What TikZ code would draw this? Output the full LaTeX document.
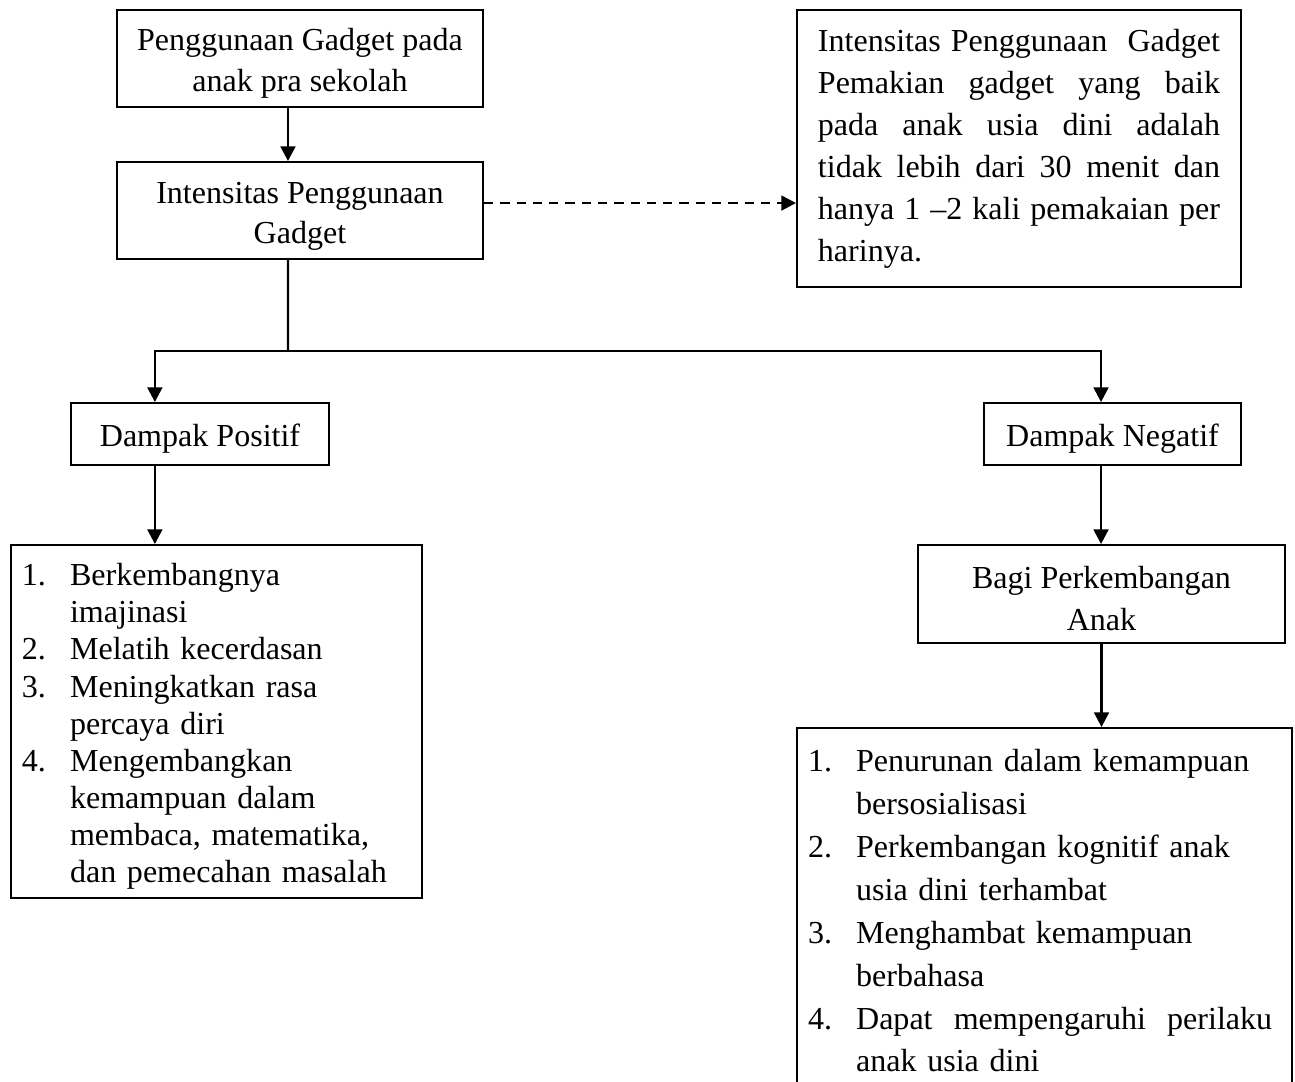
\documentclass[tikz,border=0pt]{standalone}
\usepackage{fontspec}
\setmainfont{Liberation Serif}
\usetikzlibrary{arrows.meta}

\newcommand\itemno[1]{\makebox[18pt][l]{#1}}
\newcommand\itemind{\hspace*{18pt}}
\newcommand\tstrut{\rule{0pt}{12pt}}

\tikzset{
  box/.style={draw,line width=0.7pt,inner sep=0pt,align=center},
  boxsize/.style 2 args={minimum width=#1*0.3745pt,minimum height=#2*0.3745pt},
  listbox/.style={box,align=left,inner xsep=4.1pt},
  arr/.style={-{Triangle[length=5.5pt,width=5.5pt]},line width=1pt},
}

\begin{document}
\begin{tikzpicture}[x=0.3745pt,y=-0.3745pt]
  \useasboundingbox (0,0) rectangle (1295,1081);
  % top column
  \node[box,boxsize={366}{97},font=\fontsize{12}{15.3}\selectfont] (use) at (300,58.5)
    {\tstrut Penggunaan Gadget pada\\anak pra sekolah};
  \node[box,boxsize={366}{97},font=\fontsize{12}{15}\selectfont] (intens) at (300,210.5)
    {\tstrut Intensitas Penggunaan\\Gadget};
  \node[box,align=left,boxsize={444}{277},text width=150.6pt,inner xsep=7.85pt,
    font=\fontsize{12}{15.75}\selectfont] (ket) at (1019,148.5)
    {\makebox[150.6pt][s]{Intensitas\hfill Penggunaan\hfill\hfill Gadget}\\
     \makebox[150.6pt][s]{Pemakian\hfill gadget\hfill yang\hfill baik}\\
     \makebox[150.6pt][s]{pada\hfill anak\hfill usia\hfill dini\hfill adalah}\\
     \makebox[150.6pt][s]{tidak\hfill lebih\hfill dari\hfill 30\hfill menit\hfill dan}\\
     \makebox[150.6pt][s]{hanya\hfill 1\hfill --2\hfill kali\hfill pemakaian\hfill per}\\
     harinya.};
  % two branches
  \node[box,boxsize={258}{62},font=\fontsize{12}{15}\selectfont] (pos) at (200,434) {\tstrut Dampak Positif};
  \node[box,boxsize={257}{62},font=\fontsize{12}{15}\selectfont] (neg) at (1112.5,434) {\tstrut Dampak Negatif};
  \node[listbox,boxsize={411}{353},text width=145.7pt,font=\fontsize{12}{13.9}\selectfont]
    (poslist) at (216.5,721.5)
    {\tstrut\itemno{1.}Berkembangnya\\
     \itemind imajinasi\\
     \itemno{2.}Melatih kecerdasan\\
     \itemno{3.}Meningkatkan rasa\\
     \itemind percaya diri\\
     \itemno{4.}Mengembangkan\\
     \itemind kemampuan dalam\\
     \itemind membaca, matematika,\\
     \itemind dan pemecahan masalah};
  \node[box,boxsize={367}{98},font=\fontsize{12}{15.75}\selectfont] (bagi) at (1101.5,594)
    {\tstrut Bagi Perkembangan\\Anak};
  \node[listbox,boxsize={495}{366},text width=177.1pt,font=\fontsize{12}{16.05}\selectfont]
    (neglist) at (1044.5,911)
    {\itemno{1.}Penurunan dalam kemampuan\\
     \itemind bersosialisasi\\
     \itemno{2.}Perkembangan kognitif anak\\
     \itemind usia dini terhambat\\
     \itemno{3.}Menghambat kemampuan\\
     \itemind berbahasa\\
     \itemno{4.}\makebox[155.8pt][s]{Dapat\hfill mempengaruhi\hfill perilaku}\\
     \itemind anak usia dini};

  % connectors
  \draw[arr] ([xshift=-4.5pt]use.south) -- ([xshift=-4.5pt]intens.north);
  \coordinate (dashout) at ([yshift=2.8pt]intens.east);
  \draw[arr,dash pattern=on 3.5pt off 2.6pt] (dashout) -- (dashout -| ket.west);
  \coordinate (fork) at (288,351);
  \draw[line width=0.8pt] ([xshift=-4.5pt]intens.south) -- (fork);
  \draw[arr] (fork) -| ([xshift=-16.9pt]pos.north);
  \draw[arr] (fork) -| ([xshift=-4.3pt]neg.north);
  \coordinate (posout) at ([xshift=-16.9pt]pos.south);
  \draw[arr] (posout) -- (posout |- poslist.north);
  \coordinate (negout) at ([xshift=-4.3pt]neg.south);
  \draw[arr] (negout) -- (negout |- bagi.north);
  \draw[arr] (bagi.south) -- (bagi.south |- neglist.north);
\end{tikzpicture}
\end{document}
